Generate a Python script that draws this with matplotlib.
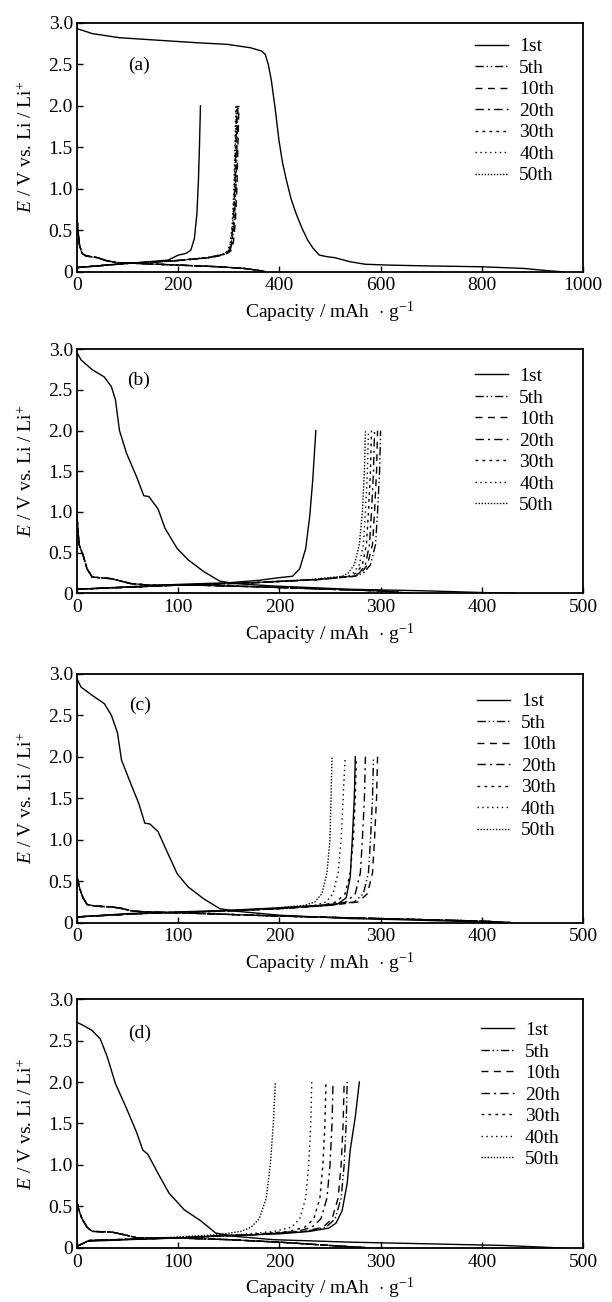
import matplotlib
matplotlib.use("Agg")
import matplotlib.pyplot as plt
from matplotlib.ticker import FuncFormatter

plt.rcParams["font.family"] = ["Liberation Serif", "DejaVu Serif"]
plt.rcParams["mathtext.fontset"] = "custom"
plt.rcParams["mathtext.rm"] = "Liberation Serif"
plt.rcParams["mathtext.it"] = "Liberation Serif:italic"

FS = 14

cycles = ["1st", "5th", "10th", "20th", "30th", "40th", "50th"]
dashes = [None, (6, 2, 1, 2, 1, 2), (5, 4), (6, 3, 1.5, 3), (2, 3), (1, 2.5), (1, 1.2)]

# ---------------- panel (a) ----------------
a_dis1_x = [0, 30, 84, 160, 236, 297, 342, 365, 372, 378, 384, 392, 399, 406, 414, 423,
            433, 445, 456, 467, 479, 495, 509, 540, 570, 616, 692, 798, 882, 935, 958]
a_dis1_y = [2.93, 2.87, 2.82, 2.79, 2.76, 2.74, 2.70, 2.66, 2.62, 2.50, 2.31, 1.95, 1.59,
            1.32, 1.10, 0.88, 0.70, 0.52, 0.38, 0.28, 0.20, 0.18, 0.17, 0.12, 0.09, 0.08,
            0.07, 0.06, 0.04, 0.01, 0.0]
a_chg1_x = [0, 60, 120, 180, 200, 215, 225, 232, 237, 240, 242, 244]
a_chg1_y = [0.05, 0.08, 0.11, 0.14, 0.20, 0.22, 0.26, 0.40, 0.70, 1.10, 1.50, 2.00]
a_dis_x = [0, 2, 5, 10, 18, 40, 60, 80, 120, 200, 280, 330, 355, 372]
a_dis_y = [0.65, 0.50, 0.32, 0.22, 0.19, 0.17, 0.13, 0.11, 0.10, 0.08, 0.06, 0.04, 0.02, 0.0]
a_chg_v = [0.05, 0.10, 0.13, 0.17, 0.21, 0.25, 0.35, 0.60, 1.00, 1.50, 2.00]
a_chg_x = [
    [0, 100, 190, 262, 292, 302, 307, 311, 314, 316, 318],
    [0, 100, 192, 265, 294, 304, 309, 313, 316, 318, 320],
    [0, 98, 190, 260, 290, 300, 305, 309, 312, 314, 316],
    [0, 98, 188, 260, 291, 301, 306, 310, 313, 315, 317],
    [0, 96, 186, 258, 288, 298, 303, 307, 310, 312, 314],
    [0, 96, 186, 258, 289, 299, 304, 308, 311, 313, 315],
]

# ---------------- panel (b) ----------------
b_dis1_x = [0, 4, 15, 27, 34, 38, 42, 49, 59, 66, 71, 80, 87, 99, 110, 125, 141, 156,
            194, 232, 270, 308, 346, 399, 433]
b_dis1_y = [2.96, 2.87, 2.75, 2.66, 2.54, 2.38, 2.00, 1.72, 1.43, 1.20, 1.19, 1.04, 0.80,
            0.55, 0.41, 0.27, 0.15, 0.12, 0.09, 0.07, 0.05, 0.04, 0.03, 0.01, 0.0]
b_chg1_x = [0, 50, 100, 150, 180, 198, 213, 220, 226, 230, 233, 236]
b_chg1_y = [0.05, 0.08, 0.11, 0.13, 0.16, 0.19, 0.21, 0.30, 0.55, 0.95, 1.40, 2.00]
b_dis_x = [0, 2, 6, 10, 15, 34, 53, 72, 120, 180, 250, 300, 330]
b_dis_y = [0.95, 0.60, 0.47, 0.30, 0.20, 0.18, 0.12, 0.10, 0.10, 0.08, 0.05, 0.03, 0.0]
b_chg_v = [0.05, 0.10, 0.13, 0.17, 0.21, 0.25, 0.35, 0.60, 1.00, 1.50, 2.00]
b_chg_x = [
    [0, 100, 175, 240, 275, 283, 290, 295, 297, 299, 300],
    [0, 100, 175, 240, 274, 281, 287, 292, 294, 296, 297],
    [0, 100, 175, 238, 273, 279, 285, 289, 291, 293, 294],
    [0, 98, 172, 236, 270, 276, 282, 286, 288, 290, 291],
    [0, 98, 172, 235, 268, 273, 279, 283, 285, 287, 288],
    [0, 96, 170, 232, 262, 268, 274, 279, 282, 284, 285],
]

# ---------------- panel (c) ----------------
c_dis1_x = [0, 4, 15, 27, 34, 40, 44, 53, 61, 67, 72, 80, 87, 99, 110, 125, 141, 156,
            201, 270, 308, 399, 422]
c_dis1_y = [2.94, 2.84, 2.74, 2.64, 2.50, 2.29, 1.96, 1.68, 1.44, 1.20, 1.19, 1.10, 0.91,
            0.59, 0.43, 0.29, 0.17, 0.14, 0.09, 0.05, 0.04, 0.01, 0.0]
c_chg1_x = [0, 50, 100, 150, 200, 240, 258, 266, 270, 272, 274, 275]
c_chg1_y = [0.07, 0.11, 0.13, 0.15, 0.18, 0.21, 0.23, 0.30, 0.55, 1.00, 1.50, 2.00]
c_dis_x = [0, 1, 3, 6, 10, 18, 35, 45, 55, 70, 100, 150, 200, 300, 400, 430]
c_dis_y = [0.55, 0.50, 0.40, 0.30, 0.22, 0.20, 0.19, 0.17, 0.14, 0.13, 0.12, 0.10, 0.08,
           0.05, 0.02, 0.0]
c_chg_v = [0.07, 0.11, 0.14, 0.17, 0.21, 0.25, 0.35, 0.60, 1.00, 1.50, 2.00]
c_chg_x = [
    [0, 62, 145, 202, 250, 274, 283, 288, 290, 292, 293],
    [0, 62, 145, 202, 250, 278, 287, 292, 294, 296, 297],
    [0, 62, 145, 200, 248, 266, 275, 280, 282, 284, 285],
    [0, 60, 142, 198, 242, 256, 265, 270, 273, 275, 276],
    [0, 60, 140, 195, 235, 246, 253, 258, 261, 263, 265],
    [0, 60, 140, 190, 225, 235, 242, 247, 250, 251, 252],
]

# ---------------- panel (d) ----------------
d_dis1_x = [0, 8, 15, 23, 30, 38, 49, 59, 65, 70, 80, 91, 106, 122, 137, 156, 194, 270,
            346, 422, 460, 479]
d_dis1_y = [2.72, 2.67, 2.62, 2.52, 2.30, 1.98, 1.68, 1.39, 1.18, 1.13, 0.90, 0.66, 0.46,
            0.33, 0.18, 0.14, 0.10, 0.07, 0.05, 0.03, 0.01, 0.0]
d_chg1_x = [0, 10, 50, 100, 150, 200, 230, 249, 256, 262, 267, 270, 275, 279]
d_chg1_y = [0.02, 0.08, 0.10, 0.12, 0.15, 0.17, 0.20, 0.24, 0.30, 0.45, 0.78, 1.18, 1.58, 2.00]
d_dis_x = [0, 2, 5, 10, 15, 35, 50, 60, 100, 150, 200, 250, 290]
d_dis_y = [0.55, 0.45, 0.35, 0.25, 0.20, 0.19, 0.15, 0.12, 0.12, 0.10, 0.07, 0.03, 0.0]
d_chg_v = [0.02, 0.09, 0.12, 0.16, 0.20, 0.25, 0.35, 0.60, 1.00, 1.50, 2.00]
d_chg_x = [
    [0, 12, 95, 175, 226, 246, 255, 261, 264, 266, 267],
    [0, 12, 95, 175, 225, 243, 252, 258, 261, 263, 264],
    [0, 12, 95, 172, 218, 232, 241, 247, 250, 252, 253],
    [0, 12, 95, 170, 210, 225, 234, 240, 243, 245, 246],
    [0, 12, 90, 160, 195, 212, 220, 226, 229, 231, 232],
    [0, 12, 80, 140, 162, 172, 180, 187, 191, 194, 196],
]

panels = [
    ("(a)", 1000, a_dis1_x, a_dis1_y, a_chg1_x, a_chg1_y, a_dis_x, a_dis_y, a_chg_v, a_chg_x),
    ("(b)", 500, b_dis1_x, b_dis1_y, b_chg1_x, b_chg1_y, b_dis_x, b_dis_y, b_chg_v, b_chg_x),
    ("(c)", 500, c_dis1_x, c_dis1_y, c_chg1_x, c_chg1_y, c_dis_x, c_dis_y, c_chg_v, c_chg_x),
    ("(d)", 500, d_dis1_x, d_dis1_y, d_chg1_x, d_chg1_y, d_dis_x, d_dis_y, d_chg_v, d_chg_x),
]

# axes rectangles (figure fraction) and legend / tag anchors (axes fraction)
rects = [
    [0.1258, 0.7913, 0.8268, 0.1912],
    [0.1258, 0.5443, 0.8268, 0.1874],
    [0.1258, 0.2913, 0.8268, 0.1912],
    [0.1258, 0.0415, 0.8268, 0.1912],
]
leg_anchor = [(0.787, 0.940), (0.787, 0.925), (0.790, 0.924), (0.798, 0.910)]
tag_pos = [(0.122, 0.83), (0.122, 0.874), (0.124, 0.874), (0.124, 0.863)]

fig = plt.figure(figsize=(6.12, 13.02), dpi=100)

for i, (tag, xmax, d1x, d1y, c1x, c1y, dx, dy, cv, cx) in enumerate(panels):
    ax = fig.add_axes(rects[i])
    handles = []
    ln, = ax.plot(d1x, d1y, color="black", lw=1.0)
    ax.plot(c1x, c1y, color="black", lw=1.0)
    handles.append(ln)
    for k in range(6):
        ls = (0, dashes[k + 1])
        ax.plot(dx, dy, color="black", lw=1.0, linestyle=ls)
        ln, = ax.plot(cx[k], cv, color="black", lw=1.0, linestyle=ls)
        handles.append(ln)

    ax.set_xlim(0, xmax)
    ax.set_ylim(0, 3.0)
    step = xmax // 5
    ax.set_xticks(range(0, xmax + 1, step))
    ax.set_yticks([0, 0.5, 1.0, 1.5, 2.0, 2.5, 3.0])
    ax.yaxis.set_major_formatter(FuncFormatter(lambda v, p: "0" if v == 0 else f"{v:.1f}"))
    ax.tick_params(direction="in", length=4, width=1, labelsize=FS, top=False, right=False)
    ax.tick_params(axis="x", pad=4)
    ax.tick_params(axis="y", pad=3)
    for sp in ax.spines.values():
        sp.set_linewidth(1.3)

    ax.set_xlabel("Capacity / mAh  $\\cdot$ g$^{\\mathregular{-1}}$", fontsize=FS, labelpad=4)
    ax.set_ylabel("$E$ / V vs. Li / Li$^{+}$", fontsize=FS, labelpad=9)
    ax.text(tag_pos[i][0], tag_pos[i][1], tag, transform=ax.transAxes, fontsize=FS,
            ha="center", va="center")

    ax.legend(handles, cycles, loc="upper left", bbox_to_anchor=leg_anchor[i],
              frameon=False, fontsize=FS, borderpad=0, borderaxespad=0,
              handlelength=1.7, handletextpad=0.57, labelspacing=0.2)

fig.savefig("out.png", dpi=100)
